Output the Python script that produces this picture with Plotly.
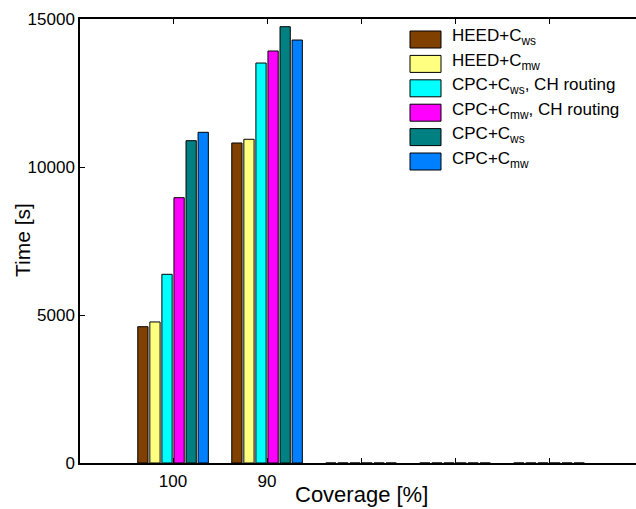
import plotly.graph_objects as go

categories = [1, 2, 3, 4, 5]
tick_labels = ["100", "90", "", "", ""]
y_ticks = [0, 5000, 10000, 15000]
y_tick_labels = ["0", "5000", "10000", "15000"]
series_names = ["HEED+C<sub>ws</sub>", "HEED+C<sub>mw</sub>",
                "CPC+C<sub>ws</sub>, CH routing", "CPC+C<sub>mw</sub>, CH routing",
                "CPC+C<sub>ws</sub>", "CPC+C<sub>mw</sub>"]
heed_ws = [4605, 10811, 0, 0, 0]
heed_mw = [4765, 10936, 0, 0, 0]
cpc_ws_ch = [6375, 13513, 0, 0, 0]
cpc_mw_ch = [8963, 13919, 0, 0, 0]
cpc_ws = [10889, 14740, 0, 0, 0]
cpc_mw = [11172, 14290, 0, 0, 0]
series_values = [heed_ws, heed_mw, cpc_ws_ch, cpc_mw_ch, cpc_ws, cpc_mw]
colors = ["#804000", "#FFFF80", "#00FFFF", "#FF00FF", "#008080", "#0080FF"]

FONT = "Liberation Sans, Arial, sans-serif"

fig = go.Figure()
for name, vals, c in zip(series_names, series_values, colors):
    fig.add_trace(go.Bar(x=categories, y=vals, name=name, marker_color=c,
                         marker_line_color="black", marker_line_width=1,
                         showlegend=False))

W, H = 636, 509
L, R, T, B = 80, 0, 19, 46
pw, ph = W - L - R, H - T - B

def px(x):
    return (x - L) / pw

def py(y):
    return (H - B - y) / ph

# custom legend (matching MATLAB style large swatches)
shapes = []
annotations = []
for i, (name, c) in enumerate(zip(series_names, colors)):
    top = 31 + i * 24.4
    bot = top + 17
    shapes.append(dict(type="rect", xref="paper", yref="paper",
                       x0=px(410), x1=px(441), y0=py(bot), y1=py(top),
                       fillcolor=c, line=dict(color="black", width=1)))
    annotations.append(dict(xref="paper", yref="paper", x=px(450), y=py(top + 6.5),
                            text=name, showarrow=False, xanchor="left", yanchor="middle",
                            font=dict(size=17, color="black", family=FONT)))

annotations.append(dict(xref="paper", yref="paper", x=px(22), y=py(240),
                        text="Time [s]", textangle=-90, showarrow=False,
                        xanchor="center", yanchor="middle",
                        font=dict(size=21, color="black", family=FONT)))
annotations.append(dict(xref="paper", yref="paper", x=px(361), y=py(495),
                        text="Coverage [%]", showarrow=False,
                        xanchor="center", yanchor="middle",
                        font=dict(size=22, color="black", family=FONT)))

fig.update_layout(
    width=W, height=H,
    margin=dict(l=L, r=R, t=T, b=B),
    paper_bgcolor="white", plot_bgcolor="white",
    barmode="group", bargap=0.23, bargroupgap=0.15,
    font=dict(family=FONT, size=17, color="black"),
    shapes=shapes, annotations=annotations,
    xaxis=dict(range=[0.01, 5.925], tickvals=categories, ticktext=tick_labels,
               ticks="inside", ticklen=5, tickcolor="black", showline=True,
               linecolor="black", linewidth=1.5, mirror="ticks", showgrid=False,
               zeroline=False, tickfont=dict(size=17), ticklabelstandoff=2),
    yaxis=dict(range=[0, 15000], tickvals=y_ticks, ticktext=y_tick_labels,
               ticks="inside", ticklen=5, tickcolor="black", showline=True,
               linecolor="black", linewidth=1.5, showgrid=False, zeroline=False,
               tickfont=dict(size=17)),
)

fig.write_html("out.html")
